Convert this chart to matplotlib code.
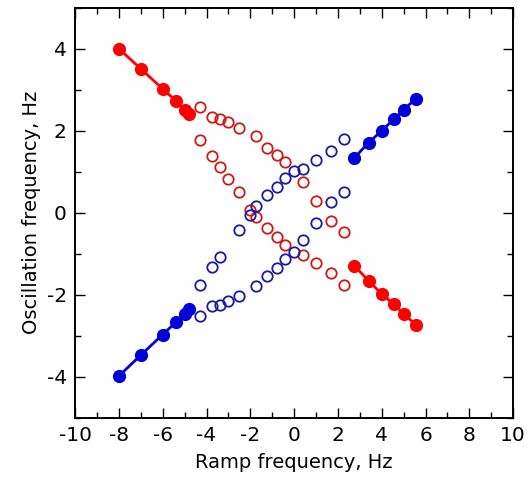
import matplotlib
matplotlib.use("Agg")
import matplotlib.pyplot as plt
from matplotlib.ticker import MultipleLocator

plt.rcParams["axes.unicode_minus"] = False

# ---- data -----------------------------------------------------------------
# filled (fitted) branches
fill_left_x = [-8.0, -7.0, -6.0, -5.4, -5.0, -4.8]
fill_left_red_y = [4.0, 3.51, 3.02, 2.73, 2.51, 2.40]
fill_left_blue_y = [-3.98, -3.47, -2.97, -2.67, -2.46, -2.34]

fill_right_x = [2.75, 3.4, 4.0, 4.55, 5.0, 5.55]
fill_right_blue_y = [1.34, 1.71, 2.0, 2.28, 2.51, 2.78]
fill_right_red_y = [-1.29, -1.66, -1.98, -2.23, -2.46, -2.73]

# open circles
red_hi_x = [-4.3, -3.75, -3.4, -3.0, -2.5, -1.75, -1.25, -0.8, -0.4, 0.4, 1.0, 1.7, 2.3]
red_hi_y = [2.58, 2.33, 2.29, 2.21, 2.07, 1.86, 1.59, 1.41, 1.24, 0.74, 0.28, -0.20, -0.47]

red_lo_x = [-4.3, -3.75, -3.4, -3.0, -2.5, -2.0, -1.75, -1.25, -0.8, -0.4, 0.4, 1.0, 1.7, 2.3]
red_lo_y = [1.78, 1.39, 1.11, 0.82, 0.50, 0.07, -0.11, -0.37, -0.58, -0.79, -1.02, -1.23, -1.46, -1.77]

blue_hi_x = [-4.3, -3.75, -3.4, -2.5, -2.0, -1.75, -1.25, -0.8, -0.4, 0.0, 0.4, 1.0, 1.7, 2.3]
blue_hi_y = [-1.77, -1.33, -1.09, -0.41, -0.05, 0.17, 0.44, 0.64, 0.85, 1.01, 1.07, 1.29, 1.50, 1.80]

blue_lo_x = [-4.3, -3.75, -3.4, -3.0, -2.5, -1.75, -1.25, -0.8, -0.4, 0.0, 0.4, 1.0, 1.7, 2.3]
blue_lo_y = [-2.52, -2.28, -2.26, -2.15, -2.04, -1.79, -1.54, -1.34, -1.12, -0.96, -0.67, -0.25, 0.26, 0.50]

RED = "#ff0000"
BLUE = "#0000d8"
RED_OPEN = "#d01818"
BLUE_OPEN = "#1a1aa0"

# ---- figure ---------------------------------------------------------------
fig = plt.figure(figsize=(5.29, 4.83), dpi=100)
ax = fig.add_axes([0.142, 0.135, 0.828, 0.849])

for x, y, c in [(fill_left_x, fill_left_red_y, RED),
                (fill_left_x, fill_left_blue_y, BLUE),
                (fill_right_x, fill_right_blue_y, BLUE),
                (fill_right_x, fill_right_red_y, RED)]:
    ax.plot(x, y, color=c, lw=2, marker="o", ms=8.5, mec=c, mfc=c, zorder=3)

for x, y, c in [(red_hi_x, red_hi_y, RED_OPEN),
                (red_lo_x, red_lo_y, RED_OPEN),
                (blue_hi_x, blue_hi_y, BLUE_OPEN),
                (blue_lo_x, blue_lo_y, BLUE_OPEN)]:
    ax.plot(x, y, ls="none", marker="o", ms=7.5, mfc="none", mec=c, mew=1.3, zorder=2)

ax.set_xlim(-10, 10)
ax.set_ylim(-5, 5)
ax.xaxis.set_major_locator(MultipleLocator(2))
ax.xaxis.set_minor_locator(MultipleLocator(1))
ax.yaxis.set_major_locator(MultipleLocator(2))
ax.yaxis.set_minor_locator(MultipleLocator(1))
ax.tick_params(which="both", direction="in", top=True, right=True, width=1.0)
ax.tick_params(which="major", length=7, labelsize=14.5, pad=6)
ax.tick_params(which="minor", length=4)
for s in ax.spines.values():
    s.set_linewidth(1.4)

ax.set_xlabel("Ramp frequency, Hz", fontsize=14, labelpad=6)
ax.set_ylabel("Oscillation frequency, Hz", fontsize=14, labelpad=4)

fig.savefig("out.png", dpi=100)
